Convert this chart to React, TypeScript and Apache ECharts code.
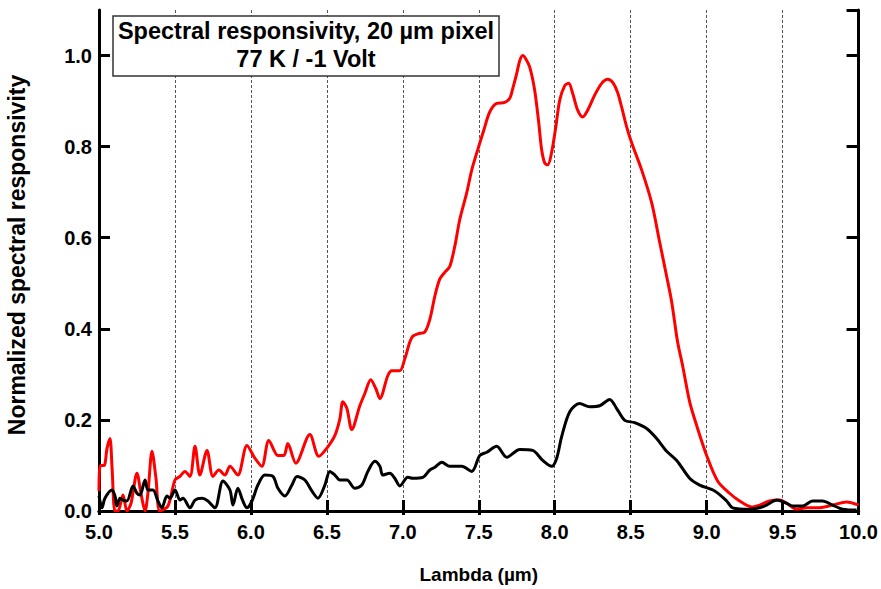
import React, { useEffect, useRef } from "react";
import * as echarts from "echarts";

const xTickValues = [5.0, 5.5, 6.0, 6.5, 7.0, 7.5, 8.0, 8.5, 9.0, 9.5, 10.0];
const yTickValues = [0.0, 0.2, 0.4, 0.6, 0.8, 1.0];

const titleLines = ["Spectral responsivity, 20 µm pixel", "77 K / -1 Volt"];
const yAxisTitle = "Normalized spectral responsivity";
const xAxisTitle = "Lambda (µm)";

const redWavelength = [
  5.0, 5.007, 5.033, 5.053, 5.072, 5.086, 5.105, 5.125, 5.158, 5.184, 5.211, 5.25, 5.276, 5.303,
  5.322, 5.349, 5.375, 5.401, 5.454, 5.5, 5.533, 5.566, 5.599, 5.632, 5.664, 5.711, 5.75, 5.789,
  5.829, 5.862, 5.914, 5.974, 6.026, 6.072, 6.118, 6.178, 6.217, 6.243, 6.296, 6.388, 6.447, 6.5,
  6.553, 6.586, 6.605, 6.632, 6.664, 6.717, 6.75, 6.789, 6.822, 6.849, 6.901, 6.928, 6.98, 7.013,
  7.046, 7.066, 7.099, 7.145, 7.178, 7.211, 7.243, 7.276, 7.309, 7.342, 7.375, 7.421, 7.454, 7.493,
  7.533, 7.572, 7.618, 7.671, 7.704, 7.724, 7.75, 7.77, 7.789, 7.809, 7.836, 7.868, 7.895, 7.914,
  7.934, 7.954, 7.98, 8.007, 8.033, 8.066, 8.092, 8.118, 8.151, 8.184, 8.217, 8.263, 8.309, 8.349,
  8.382, 8.414, 8.441, 8.474, 8.507, 8.572, 8.638, 8.691, 8.737, 8.77, 8.809, 8.842, 8.888, 8.934,
  9.0, 9.072, 9.151, 9.217, 9.296, 9.349, 9.414, 9.48, 9.526, 9.592, 9.658, 9.743, 9.829, 9.921, 10.0,
];
const redResponse = [
  0.044, 0.1, 0.1, 0.138, 0.159, 0.094, 0.0, 0.0, 0.035, 0.0, 0.017, 0.083, 0.039, 0.0,
  0.039, 0.131, 0.072, 0.0, 0.011, 0.068, 0.076, 0.087, 0.076, 0.142, 0.079, 0.133, 0.076, 0.09,
  0.079, 0.098, 0.079, 0.144, 0.116, 0.098, 0.155, 0.122, 0.122, 0.148, 0.105, 0.168, 0.12, 0.138,
  0.166, 0.203, 0.24, 0.225, 0.179, 0.231, 0.258, 0.288, 0.269, 0.247, 0.297, 0.308, 0.308, 0.334,
  0.371, 0.384, 0.389, 0.393, 0.421, 0.472, 0.509, 0.524, 0.537, 0.581, 0.64, 0.699, 0.749, 0.793,
  0.836, 0.876, 0.895, 0.897, 0.906, 0.928, 0.961, 0.989, 1.0, 0.993, 0.974, 0.924, 0.852, 0.793,
  0.764, 0.76, 0.788, 0.843, 0.902, 0.934, 0.939, 0.917, 0.88, 0.865, 0.88, 0.913, 0.939, 0.948,
  0.941, 0.919, 0.886, 0.843, 0.808, 0.749, 0.677, 0.59, 0.515, 0.459, 0.371, 0.319, 0.24, 0.188,
  0.122, 0.066, 0.039, 0.022, 0.009, 0.013, 0.022, 0.024, 0.017, 0.004, 0.007, 0.007, 0.013, 0.02, 0.013,
];

const blackWavelength = [
  5.0, 5.02, 5.039, 5.086, 5.105, 5.118, 5.138, 5.158, 5.184, 5.224, 5.25, 5.27, 5.303, 5.322,
  5.355, 5.388, 5.414, 5.447, 5.467, 5.5, 5.533, 5.553, 5.599, 5.632, 5.678, 5.717, 5.763, 5.816,
  5.862, 5.882, 5.914, 5.947, 5.974, 6.007, 6.046, 6.092, 6.145, 6.178, 6.224, 6.27, 6.303, 6.355,
  6.401, 6.441, 6.487, 6.52, 6.553, 6.586, 6.632, 6.684, 6.73, 6.77, 6.816, 6.849, 6.868, 6.914,
  6.947, 6.98, 7.033, 7.066, 7.132, 7.178, 7.211, 7.257, 7.309, 7.388, 7.454, 7.507, 7.553, 7.618,
  7.684, 7.77, 7.855, 7.921, 7.98, 8.013, 8.046, 8.099, 8.164, 8.23, 8.296, 8.362, 8.408, 8.461,
  8.526, 8.605, 8.671, 8.737, 8.803, 8.888, 8.954, 9.053, 9.132, 9.171, 9.283, 9.349, 9.395, 9.461,
  9.526, 9.566, 9.632, 9.697, 9.763, 9.829, 9.895, 9.987,
];
const blackResponse = [
  0.033, 0.007, 0.028, 0.046, 0.033, 0.011, 0.028, 0.024, 0.022, 0.055, 0.039, 0.035, 0.068, 0.046,
  0.046, 0.022, 0.007, 0.033, 0.028, 0.046, 0.024, 0.028, 0.007, 0.024, 0.028, 0.022, 0.007, 0.066,
  0.046, 0.013, 0.05, 0.022, 0.007, 0.022, 0.057, 0.079, 0.076, 0.05, 0.033, 0.057, 0.076, 0.068,
  0.044, 0.028, 0.057, 0.087, 0.079, 0.068, 0.068, 0.05, 0.057, 0.087, 0.109, 0.098, 0.079, 0.083,
  0.072, 0.055, 0.074, 0.072, 0.074, 0.09, 0.096, 0.107, 0.098, 0.098, 0.087, 0.122, 0.129, 0.142,
  0.118, 0.135, 0.133, 0.111, 0.098, 0.116, 0.164, 0.218, 0.236, 0.229, 0.231, 0.245, 0.225, 0.199,
  0.194, 0.181, 0.159, 0.131, 0.111, 0.072, 0.057, 0.044, 0.022, 0.007, 0.004, 0.007, 0.013, 0.024,
  0.017, 0.011, 0.011, 0.022, 0.022, 0.013, 0.004, 0.002,
];

const FONT = "'Liberation Sans', Arial, Helvetica, sans-serif";

export default function App() {
  const ref = useRef<HTMLDivElement>(null);

  useEffect(() => {
    if (!ref.current) return;
    const chart = echarts.init(ref.current, null, { renderer: "svg" });
    const red = redWavelength.map((x, i) => [x, redResponse[i]]);
    const black = blackWavelength.map((x, i) => [x, blackResponse[i]]);
    const xMin = xTickValues[0];
    const xMax = xTickValues[xTickValues.length - 1];
    const xInt = xTickValues[1] - xTickValues[0];
    const yInt = yTickValues[1] - yTickValues[0];
    const axisLine = { show: true, lineStyle: { color: "#000", width: 3 } };

    chart.setOption({
      animation: false,
      backgroundColor: "#fff",
      grid: { left: 99, right: 22, top: 10, bottom: 76, containLabel: false },
      xAxis: [
        {
          type: "value",
          min: xMin,
          max: xMax,
          interval: xInt,
          position: "bottom",
          name: xAxisTitle,
          nameLocation: "middle",
          nameGap: 54,
          nameTextStyle: { fontFamily: FONT, fontWeight: "bold", fontSize: 19, color: "#000" },
          axisLine,
          axisTick: { show: true, inside: true, length: 11, lineStyle: { color: "#000", width: 3 } },
          axisLabel: {
            show: true,
            margin: 11,
            fontFamily: FONT,
            fontWeight: "bold",
            fontSize: 20,
            color: "#000",
            formatter: (v: number) => v.toFixed(1),
          },
          splitLine: { show: true, lineStyle: { color: "#555", width: 1, type: [3, 2] } },
        },
        {
          type: "value",
          min: xMin,
          max: xMax,
          interval: xInt,
          position: "top",
          axisLine,
          axisTick: { show: true, inside: true, length: 4, lineStyle: { color: "#000", width: 3 } },
          axisLabel: { show: false },
          splitLine: { show: false },
        },
      ],
      yAxis: [
        {
          type: "value",
          min: 0,
          max: 1.1,
          interval: yInt,
          position: "left",
          axisLine,
          axisTick: { show: true, inside: true, length: 11, lineStyle: { color: "#000", width: 3 } },
          axisLabel: {
            show: true,
            margin: 7,
            showMaxLabel: false,
            fontFamily: FONT,
            fontWeight: "bold",
            fontSize: 20,
            color: "#000",
            formatter: (v: number) => (v > 1.0001 ? "" : v.toFixed(1)),
          },
          splitLine: { show: false },
        },
        {
          type: "value",
          min: 0,
          max: 1.1,
          interval: yInt,
          position: "right",
          axisLine,
          axisTick: { show: true, inside: true, length: 12, lineStyle: { color: "#000", width: 3 } },
          axisLabel: { show: false },
          splitLine: { show: false },
        },
      ],
      series: [
        {
          type: "line",
          name: "red",
          data: red,
          smooth: 0.3,
          showSymbol: false,
          clip: true,
          lineStyle: { color: "#ff0000", width: 3 },
          z: 3,
        },
        {
          type: "line",
          name: "black",
          data: black,
          smooth: 0.3,
          showSymbol: false,
          clip: true,
          lineStyle: { color: "#000000", width: 3 },
          z: 4,
        },
      ],
      graphic: [
        {
          type: "text",
          x: 17,
          y: 255,
          rotation: Math.PI / 2,
          style: {
            text: yAxisTitle,
            fontFamily: FONT,
            fontWeight: "bold",
            fontSize: 23,
            fill: "#000",
            align: "center",
            verticalAlign: "middle",
          },
          z: 101,
        },
        {
          type: "rect",
          shape: { x: 113, y: 16, width: 386, height: 60 },
          style: { fill: "#fff", stroke: "#333", lineWidth: 1.5 },
          z: 100,
        },
        {
          type: "text",
          x: 306,
          y: 31,
          style: {
            text: titleLines[0],
            fontFamily: FONT,
            fontWeight: "bold",
            fontSize: 23.5,
            fill: "#000",
            align: "center",
            verticalAlign: "middle",
          },
          z: 101,
        },
        {
          type: "text",
          x: 306,
          y: 59,
          style: {
            text: titleLines[1],
            fontFamily: FONT,
            fontWeight: "bold",
            fontSize: 23.5,
            fill: "#000",
            align: "center",
            verticalAlign: "middle",
          },
          z: 101,
        },
      ],
    });
    return () => chart.dispose();
  }, []);

  return (
    <div
      ref={ref}
      style={{ position: "fixed", left: 0, top: 0, width: 881, height: 589, background: "#fff" }}
    />
  );
}
